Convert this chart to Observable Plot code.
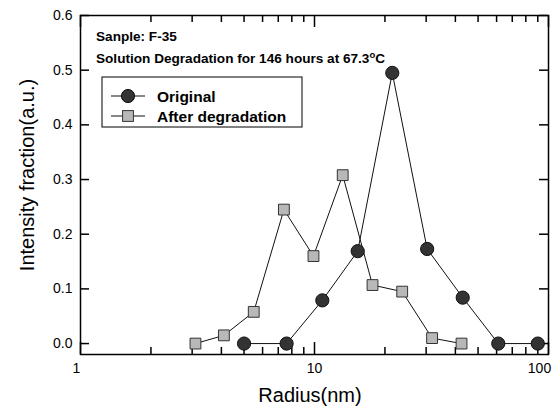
<!DOCTYPE html>
<html><head><meta charset="utf-8">
<script src="https://cdn.jsdelivr.net/npm/d3@7"></script>
<script src="https://cdn.jsdelivr.net/npm/@observablehq/plot@0.6"></script>
<style>body{margin:0;background:#fff;}</style>
</head><body><div id="chart"></div>
<script>
// ---- data ----
const radiusOriginal = [5.0, 7.6, 10.8, 15.3, 21.5, 30.3, 43, 61, 90];
const intensityOriginal = [0, 0, 0.079, 0.169, 0.495, 0.173, 0.084, 0, 0];
const radiusDegraded = [3.1, 4.1, 5.5, 7.4, 9.9, 13.2, 17.7, 23.7, 31.8, 42.5];
const intensityDegraded = [0, 0.015, 0.058, 0.245, 0.16, 0.308, 0.107, 0.095, 0.01, 0];
const seriesNames = ["Original", "After degradation"];
const xTickLabels = [1, 10, 100];
const xMinorTicks = [2, 3, 4, 5, 6, 7, 8, 9, 20, 30, 40, 50, 60, 70, 80, 90];
const yTicks = [0, 0.1, 0.2, 0.3, 0.4, 0.5, 0.6];
const annotation1 = "Sanple: F-35";
const annotation2 = "Solution Degradation for 146 hours at 67.3";
const xTitle = "Radius(nm)";
const yTitle = "Intensity fraction(a.u.)";

// ---- layout ----
const W = 555, H = 408, mL = 80, mR = 7, mT = 15, mB = 54;
const pw = W - mL - mR, ph = H - mT - mB;
const font = "'Liberation Sans', Arial, Helvetica, sans-serif";
const majorLen = 12, minorLen = 7, yTickLen = 9;

const original = radiusOriginal.map((r, i) => ({r, v: intensityOriginal[i]}));
const degraded = radiusDegraded.map((r, i) => ({r, v: intensityDegraded[i]}));
const circleFill = "#333333", squareFill = "#b8b8b8";
const tickStyle = {stroke: "#000", strokeWidth: 1.5};

const svg = Plot.plot({
  width: W, height: H,
  marginLeft: mL, marginRight: mR, marginTop: mT, marginBottom: mB,
  style: {fontFamily: font, fontSize: "14px", color: "#000", background: "#fff"},
  x: {type: "log", domain: [1, 100]},
  y: {domain: [-0.02, 0.6]},
  marks: [
    Plot.axisX([xTickLabels[0]], {anchor: "bottom", tickSize: 0, tickPadding: 9, dx: -4, tickFormat: d => String(d), fontSize: 14, label: null}),
    Plot.axisX([xTickLabels[1]], {anchor: "bottom", tickSize: 0, tickPadding: 9, tickFormat: d => String(d), fontSize: 14, label: null}),
    Plot.axisX([xTickLabels[2]], {anchor: "bottom", tickSize: 0, tickPadding: 9, dx: -9, tickFormat: d => String(d), fontSize: 14, label: null}),
    Plot.axisY(yTicks, {anchor: "left", tickSize: 0, tickPadding: 8, tickFormat: d3.format(".1f"), fontSize: 14, label: null}),
    // inward ticks, bottom & top
    Plot.tickX(xMinorTicks, {x: d => d, insetTop: ph - minorLen, ...tickStyle}),
    Plot.tickX(xMinorTicks, {x: d => d, insetBottom: ph - minorLen, ...tickStyle}),
    Plot.tickX(xTickLabels, {x: d => d, insetTop: ph - majorLen, ...tickStyle}),
    Plot.tickX(xTickLabels, {x: d => d, insetBottom: ph - majorLen, ...tickStyle}),
    // inward ticks, left & right
    Plot.tickY(yTicks, {y: d => d, insetRight: pw - yTickLen, ...tickStyle}),
    Plot.tickY(yTicks, {y: d => d, insetLeft: pw - yTickLen, ...tickStyle}),
    Plot.frame({stroke: "#000", strokeWidth: 1.5}),
    Plot.line(original, {x: "r", y: "v", stroke: "#111", strokeWidth: 1}),
    Plot.line(degraded, {x: "r", y: "v", stroke: "#111", strokeWidth: 1}),
    Plot.dot(original, {x: "r", y: "v", r: 6.6, symbol: "circle", fill: circleFill, stroke: "#111", strokeWidth: 1}),
    Plot.dot(degraded, {x: "r", y: "v", r: 6.1, symbol: "square", fill: squareFill, stroke: "#333", strokeWidth: 1})
  ]
});

// ---- titles, annotations and legend ----
const s = d3.select(svg);
const tg = s.append("g").attr("font-family", font).attr("fill", "#000").attr("font-size", 20);
tg.append("text").attr("text-anchor", "middle").attr("x", mL + pw / 2 - 4).attr("y", 402).text(xTitle);
tg.append("text").attr("text-anchor", "middle").attr("transform", "translate(34,175) rotate(-90)").text(yTitle);

const g = s.append("g").attr("font-family", font).attr("font-weight", "bold").attr("fill", "#000").attr("text-anchor", "start");
g.append("text").attr("x", 96).attr("y", 41).attr("font-size", 13.6).text(annotation1);
const t2 = g.append("text").attr("x", 96).attr("y", 63).attr("font-size", 13.6);
t2.append("tspan").text(annotation2);
t2.append("tspan").attr("dy", -5).attr("font-size", 9.5).text("o");
t2.append("tspan").attr("dy", 5).text("C");

const lg = s.append("g");
lg.append("rect").attr("x", 102).attr("y", 77).attr("width", 200).attr("height", 50)
  .attr("fill", "#fff").attr("stroke", "#000").attr("stroke-width", 1);
const rows = [96, 116];
seriesNames.forEach((name, i) => {
  const y = rows[i];
  lg.append("line").attr("x1", 111).attr("x2", 145).attr("y1", y).attr("y2", y).attr("stroke", "#111");
  if (i === 0) {
    lg.append("circle").attr("cx", 128).attr("cy", y).attr("r", 6.6).attr("fill", circleFill).attr("stroke", "#111");
  } else {
    lg.append("rect").attr("x", 128 - 5.4).attr("y", y - 5.4).attr("width", 10.8).attr("height", 10.8)
      .attr("fill", squareFill).attr("stroke", "#333");
  }
  lg.append("text").attr("x", 157).attr("y", y + 5.5).attr("font-family", font).attr("font-weight", "bold")
    .attr("text-anchor", "start").attr("font-size", 15.5).text(name);
});

document.getElementById("chart").appendChild(svg);
</script>
</body></html>
